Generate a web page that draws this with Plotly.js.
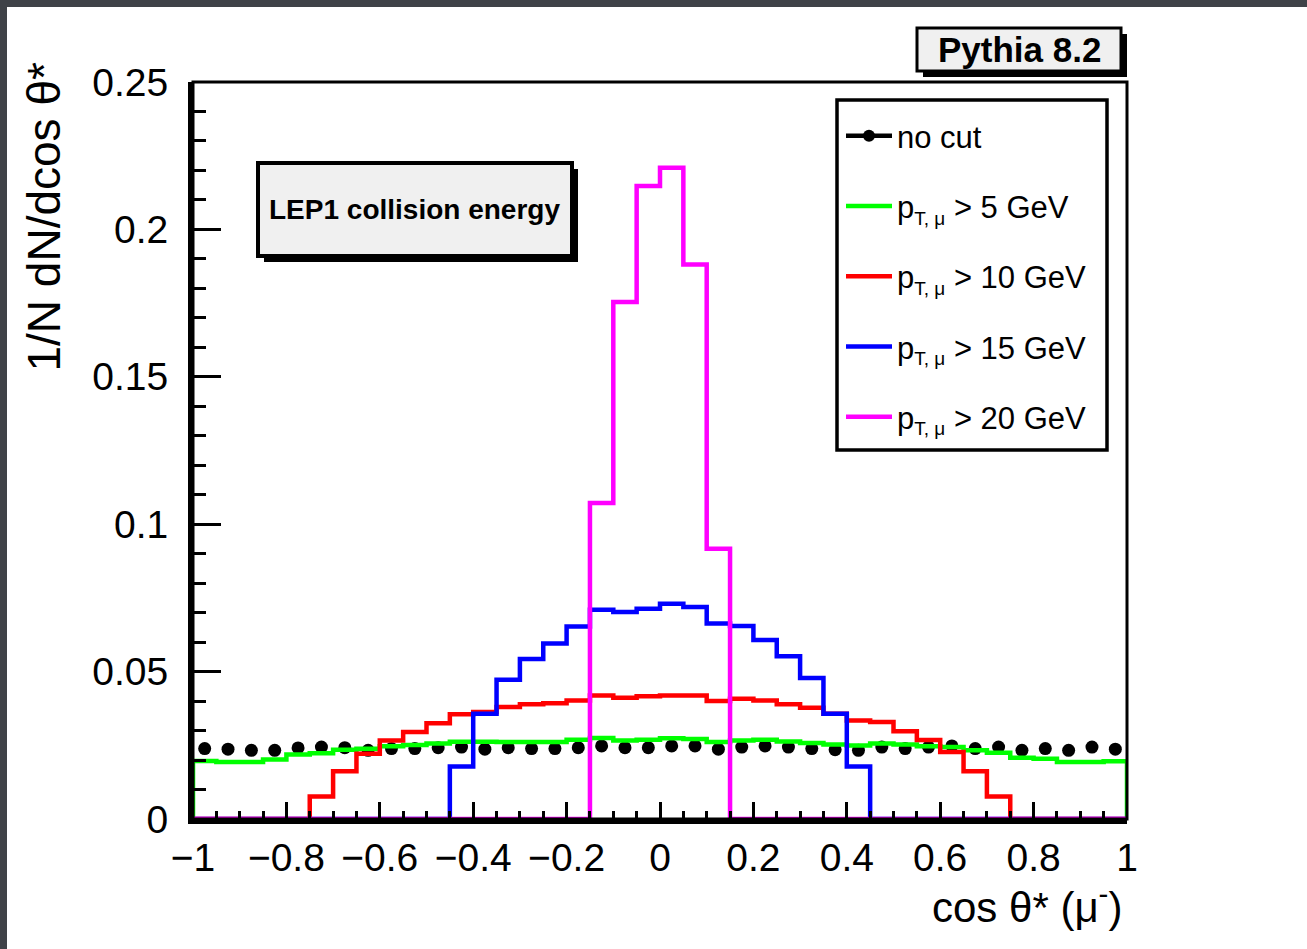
<!DOCTYPE html>
<html>
<head>
<meta charset="utf-8">
<script src="https://cdn.plot.ly/plotly-3.0.1.min.js"></script>
<style>
  html, body { margin: 0; padding: 0; background: #3f4248; width: 1307px; height: 949px; overflow: hidden; }
  #chart { position: absolute; left: 7px; top: 7px; width: 1300px; height: 942px; background: #ffffff; }
</style>
</head>
<body>
<div id="chart"></div>
<script>
// ---- data (40 bins of width 0.05 on [-1, 1]) ----
const nBins = 40;
const xMin = -1, xMax = 1;
const binWidth = 0.05;

const noCut = [0.0239,0.0237,0.0233,0.0233,0.0241,0.0244,0.0242,0.0233,0.0239,0.0239,
               0.0242,0.0244,0.0237,0.0242,0.0239,0.0239,0.0242,0.0248,0.0242,0.0242,
               0.0248,0.0248,0.0237,0.0244,0.0248,0.0244,0.0239,0.0235,0.0233,0.0244,
               0.0239,0.0244,0.0248,0.0239,0.0244,0.0233,0.0239,0.0233,0.0244,0.0237];

const pt5 = [0.0197,0.0193,0.0193,0.0202,0.0219,0.0223,0.0235,0.0238,0.0247,0.0251,
             0.0256,0.0262,0.0262,0.0261,0.0261,0.0261,0.0269,0.0275,0.0266,0.0269,
             0.0274,0.0271,0.0261,0.0266,0.0269,0.0263,0.0258,0.0253,0.0249,0.0256,
             0.0253,0.0247,0.0244,0.0233,0.0225,0.0208,0.0204,0.0193,0.0193,0.0196];

const pt10 = [0,0,0,0,0,0.0076,0.0162,0.0221,0.0266,0.0295,
              0.0325,0.0355,0.0363,0.0380,0.0389,0.0393,0.0402,0.0419,0.0411,0.0416,
              0.0419,0.0419,0.0400,0.0408,0.0402,0.0389,0.0377,0.0357,0.0334,0.0329,
              0.0298,0.0268,0.0227,0.0162,0.0076,0,0,0,0,0];

const pt15 = [0,0,0,0,0,0,0,0,0,0,
              0,0.0178,0.0357,0.0472,0.0543,0.0595,0.0653,0.0710,0.0702,0.0713,
              0.0730,0.0719,0.0663,0.0655,0.0607,0.0552,0.0478,0.0357,0.0178,0,
              0,0,0,0,0,0,0,0,0,0];

const pt20 = [0,0,0,0,0,0,0,0,0,0,
              0,0,0,0,0,0,0,0.1072,0.1754,0.2147,
              0.2209,0.1881,0.0917,0,0,0,0,0,0,0,
              0,0,0,0,0,0,0,0,0,0];

const SUB = 'p<sub><span style="font-size:19px">T, μ</span></sub> ';
const seriesNames = ['no cut',
  SUB + '&gt; 5 GeV',
  SUB + '&gt; 10 GeV',
  SUB + '&gt; 15 GeV',
  SUB + '&gt; 20 GeV'];
const seriesColors = ['#000000', '#00ff00', '#ff0000', '#0000ff', '#ff00ff'];

const xTickVals = [-1, -0.8, -0.6, -0.4, -0.2, 0, 0.2, 0.4, 0.6, 0.8, 1];
const yTickVals = [0, 0.05, 0.1, 0.15, 0.2, 0.25];

// ---- helpers ----
const binLow = [];
for (let i = 0; i < nBins; i++) binLow.push(+(xMin + i * binWidth).toFixed(4));
const binCenter = binLow.map(v => +(v + binWidth / 2).toFixed(4));

function stepTrace(vals, name, color, group) {
  return {
    type: 'scatter', mode: 'lines', name: name,
    x: [xMin].concat(binLow, [xMax]),
    y: [0].concat(vals, [0]),
    line: { shape: 'hv', color: color, width: 4.5 },
    legendgroup: group, hoverinfo: 'skip'
  };
}

const FONT = 'Liberation Sans, Arial, Helvetica, sans-serif';
const W = 1300, H = 942;
const M = { l: 186, r: 180, t: 75, b: 130 };
const PW = W - M.l - M.r, PH = H - M.t - M.b;
const px = x => (x - M.l) / PW;
const py = y => 1 - (y - M.t) / PH;

const traces = [
  { type: 'scatter', mode: 'markers', x: binCenter, y: noCut, showlegend: false,
    marker: { color: '#000000', size: 13 }, hoverinfo: 'skip', legendgroup: 'g0' },
  { type: 'scatter', mode: 'lines+markers', x: [null], y: [null], name: seriesNames[0],
    line: { color: '#000000', width: 4.5 }, marker: { color: '#000000', size: 12 }, legendgroup: 'g0' },
  stepTrace(pt5, seriesNames[1], seriesColors[1], 'g1'),
  stepTrace(pt10, seriesNames[2], seriesColors[2], 'g2'),
  stepTrace(pt15, seriesNames[3], seriesColors[3], 'g3'),
  stepTrace(pt20, seriesNames[4], seriesColors[4], 'g4')
];

function boxShapes(x0, y0, x1, y1, off, lw) {
  return [
    { type: 'rect', xref: 'paper', yref: 'paper', x0: px(x0 + off), x1: px(x1 + off), y0: py(y0 + off), y1: py(y1 + off),
      fillcolor: '#000000', line: { width: 0 }, layer: 'above' },
    { type: 'rect', xref: 'paper', yref: 'paper', x0: px(x0), x1: px(x1), y0: py(y0), y1: py(y1),
      fillcolor: '#f0f0f0', line: { color: '#000000', width: lw }, layer: 'above' }
  ];
}

const layout = {
  width: W, height: H,
  margin: M,
  paper_bgcolor: '#ffffff', plot_bgcolor: '#ffffff',
  font: { family: FONT, color: '#000000' },
  showlegend: true,
  legend: {
    x: px(834), y: py(102), xanchor: 'left', yanchor: 'top',
    bgcolor: 'rgba(0,0,0,0)', borderwidth: 0,
    font: { family: FONT, size: 31, color: '#000000' },
    tracegroupgap: 27, itemwidth: 46, traceorder: 'grouped'
  },
  xaxis: {
    range: [xMin, xMax], tickvals: xTickVals, showgrid: false, zeroline: false,
    showline: true, linecolor: '#000000', linewidth: 5,
    ticks: 'inside', ticklen: 17, tickwidth: 3, tickcolor: '#000000',
    minor: { dtick: 0.05, ticks: 'inside', ticklen: 8, tickwidth: 3, tickcolor: '#000000', showgrid: false },
    tickfont: { family: FONT, size: 39, color: '#000000' },
    ticklabelstandoff: 0
  },
  yaxis: {
    range: [0, 0.25], tickvals: yTickVals, showgrid: false, zeroline: false,
    showline: true, linecolor: '#000000', linewidth: 5,
    ticks: 'inside', ticklen: 28, tickwidth: 3, tickcolor: '#000000',
    minor: { dtick: 0.01, ticks: 'inside', ticklen: 13, tickwidth: 3, tickcolor: '#000000', showgrid: false },
    tickfont: { family: FONT, size: 39, color: '#000000' },
    ticklabelstandoff: 12
  },
  shapes: [
    { type: 'rect', xref: 'x domain', yref: 'y domain', x0: 0, x1: 1, y0: 0, y1: 1,
      line: { color: '#000000', width: 3 }, layer: 'above' },
    // legend frame
    { type: 'rect', xref: 'paper', yref: 'paper', x0: px(830), x1: px(1100), y0: py(93), y1: py(443),
      fillcolor: '#ffffff', line: { color: '#000000', width: 3.5 }, layer: 'above' }
  ].concat(boxShapes(251, 156, 565, 249, 6, 4), boxShapes(910, 21, 1114, 64, 6, 3)),
  annotations: [
    { text: 'LEP1 collision energy', xref: 'paper', yref: 'paper', x: px(407), y: py(202),
      xanchor: 'center', yanchor: 'middle', showarrow: false,
      font: { family: FONT, size: 28, color: '#000000', weight: 'bold' } },
    { text: 'Pythia 8.2', xref: 'paper', yref: 'paper', x: px(1012), y: py(43),
      xanchor: 'center', yanchor: 'middle', showarrow: false,
      font: { family: FONT, size: 35, color: '#000000', weight: 'bold' } },
    { text: 'cos θ* (μ<sup>-</sup>)', xref: 'paper', yref: 'paper', x: px(1117), y: py(897),
      xanchor: 'right', yanchor: 'middle', showarrow: false,
      font: { family: FONT, size: 42, color: '#000000' } },
    { text: '1/N dN/dcos θ*', xref: 'paper', yref: 'paper', x: px(36), y: py(54),
      xanchor: 'center', yanchor: 'top', textangle: -90, showarrow: false,
      font: { family: FONT, size: 46, color: '#000000' } }
  ]
};

Plotly.newPlot('chart', traces, layout, { staticPlot: true, displayModeBar: false });
</script>
</body>
</html>
